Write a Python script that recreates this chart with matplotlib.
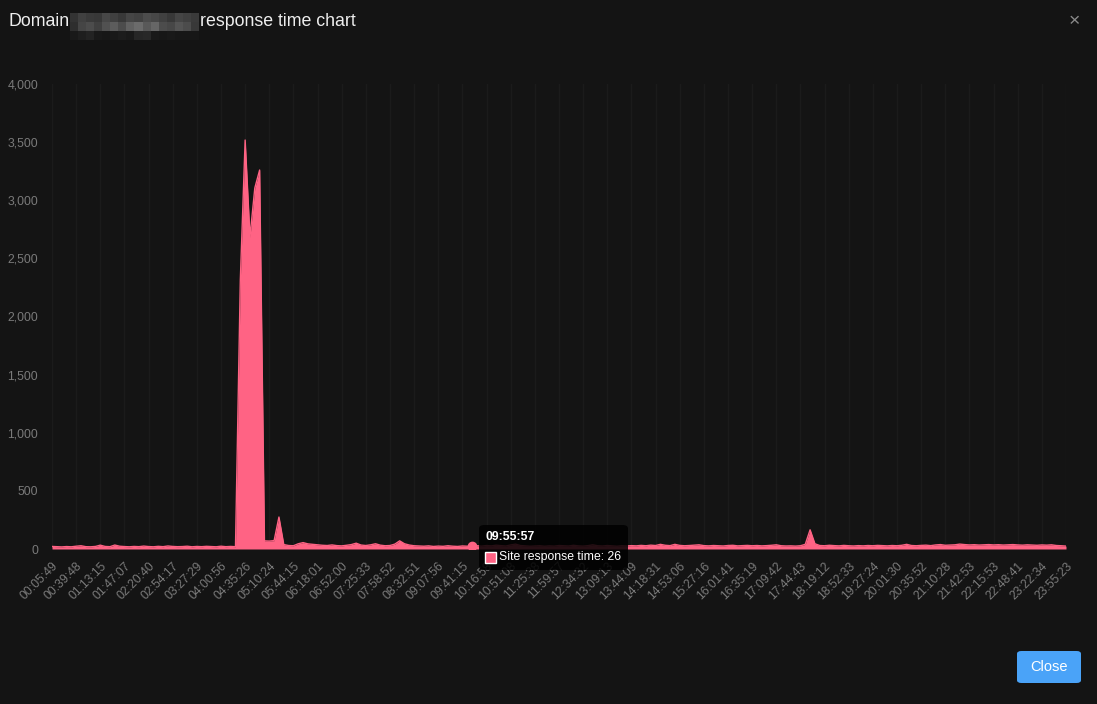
import numpy as np
import matplotlib.pyplot as plt
from matplotlib.patches import FancyBboxPatch, Rectangle

plt.rcParams['font.family'] = ['Liberation Sans', 'DejaVu Sans']

# x-axis labels (one every 5 samples)
tick_labels = ['00:05:49', '00:39:48', '01:13:15', '01:47:07', '02:20:40', '02:54:17',
               '03:27:29', '04:00:56', '04:35:26', '05:10:24', '05:44:15', '06:18:01',
               '06:52:00', '07:25:33', '07:58:52', '08:32:51', '09:07:56', '09:41:15',
               '10:16:58', '10:51:08', '11:25:38', '11:59:57', '12:34:32', '13:09:13',
               '13:44:09', '14:18:31', '14:53:06', '15:27:16', '16:01:41', '16:35:19',
               '17:09:42', '17:44:43', '18:19:12', '18:52:33', '19:27:24', '20:01:30',
               '20:35:52', '21:10:28', '21:42:53', '22:15:53', '22:48:41', '23:22:34',
               '23:55:23']
label_step = 5

# site response time (ms)
response_time = [
    22, 20, 18, 21, 19, 24, 28, 20, 19, 22,
    33, 22, 20, 34, 24, 21, 19, 22, 20, 25,
    21, 19, 23, 20, 26, 22, 20, 21, 24, 19,
    22, 20, 23, 21, 19, 24, 20, 22,
    20, 2314, 3518, 2684, 3105, 3260, 70, 68, 72, 275, 38, 30,
    28, 45, 55, 44, 40, 36, 32, 30, 35, 29,
    27, 32, 38, 50, 34, 30, 36, 45, 33, 28,
    30, 42, 70, 45, 34, 28, 26, 24, 27, 22,
    25, 23, 28, 24, 22, 26, 24, 26, 28, 25,
    30, 27, 33, 29, 26, 35, 42, 30, 27, 24,
    26, 28, 24, 27, 25, 30, 28, 26, 32, 27,
    25, 29, 36, 28, 26, 30, 27, 24, 28, 26,
    29, 27, 31, 28, 33, 30, 40, 32, 29, 40,
    31, 28, 30, 33, 36, 29, 27, 30, 28, 26,
    30, 32, 27, 29, 31, 28, 30, 27, 29, 32,
    36, 28, 26, 27, 25, 28, 40, 165, 45, 30,
    28, 32, 29, 27, 31, 28, 26, 29, 27, 30,
    28, 31, 29, 27, 30, 28, 32, 40, 30, 28,
    31, 33, 29, 35, 38, 32, 34, 36, 42, 38,
    35, 37, 34, 36, 38, 35, 37, 34, 36, 38,
    35, 33, 36, 34, 32, 35, 33, 36, 30, 28,
    25,
]

# hovered point shown in the tooltip
hover_index = 87
hover_time = '09:55:57'

bg = '#141414'
pink = '#ff6384'
grey = '#7a7a7a'

fig = plt.figure(figsize=(10.97, 7.04), dpi=100, facecolor=bg)
ax = fig.add_axes([52 / 1097, 155 / 704, 1014 / 1097, 465 / 704], facecolor=bg)

x = np.arange(len(response_time))
y = np.array(response_time)
ax.fill_between(x, 0, y, color=pink, linewidth=0, zorder=2)
ax.plot(x, y, color=pink, linewidth=1, zorder=3)
ax.plot(x[hover_index], y[hover_index], 'o', color=pink, markersize=6, zorder=4)

ax.set_xlim(0, len(response_time) - 1)
ax.set_ylim(0, 4000)
ax.set_yticks(np.arange(0, 4001, 500))
ax.set_yticklabels([f'{v:,}' for v in range(0, 4001, 500)])
ax.set_xticks(np.arange(0, len(response_time), label_step))
ax.set_xticklabels(tick_labels, rotation=45, ha='right', va='top', rotation_mode='anchor')
ax.tick_params(axis='both', length=0, colors=grey, labelsize=8.8)
ax.tick_params(axis='y', pad=10)
ax.tick_params(axis='x', pad=8)
ax.grid(axis='x', color='#1b1b1b', linewidth=1)
for s in ax.spines.values():
    s.set_visible(False)

# title with blurred domain name
fig.text(8 / 1097, 1 - 22 / 704, 'Domain', color='#eeeeee', fontsize=12.8, va='center')
fig.text(200 / 1097, 1 - 22 / 704, 'response time chart', color='#eeeeee', fontsize=12.8, va='center')
mosaic = np.array([
    [0.20, 0.25, 0.23, 0.22, 0.28, 0.25, 0.22, 0.27, 0.26, 0.30, 0.28, 0.25, 0.22, 0.27, 0.25, 0.23],
    [0.18, 0.27, 0.30, 0.25, 0.32, 0.36, 0.30, 0.38, 0.42, 0.35, 0.40, 0.30, 0.28, 0.33, 0.30, 0.22],
    [0.10, 0.12, 0.14, 0.10, 0.09, 0.10, 0.11, 0.10, 0.15, 0.16, 0.10, 0.09, 0.10, 0.09, 0.09, 0.09],
])
ax_m = fig.add_axes([70 / 1097, 1 - 40 / 704, 129 / 1097, 27 / 704])
ax_m.imshow(mosaic, cmap='gray', vmin=0, vmax=1, aspect='auto', interpolation='nearest')
ax_m.axis('off')

# close cross
fig.text(1074 / 1097, 1 - 22 / 704, '\u00d7', color='#8a8a8a', fontsize=14, ha='center', va='center')

# tooltip
tip = FancyBboxPatch((479 / 1097, 1 - 570 / 704), 149 / 1097, 45 / 704,
                     boxstyle='round,pad=0,rounding_size=0.005', transform=fig.transFigure,
                     facecolor='black', alpha=0.85, edgecolor='none', zorder=10)
fig.patches.append(tip)
fig.text(485 / 1097, 1 - 537 / 704, hover_time, color='white', fontsize=8.8,
         fontweight='bold', va='center', zorder=11)
fig.patches.append(Rectangle((485 / 1097, 1 - 563 / 704), 11 / 1097, 11 / 704,
                             transform=fig.transFigure, facecolor=pink, edgecolor='white',
                             linewidth=1, zorder=11))
fig.text(499 / 1097, 1 - 557 / 704, f'Site response time: {response_time[hover_index]}',
         color='white', fontsize=8.8, va='center', zorder=11)

# close button
btn = FancyBboxPatch((1017 / 1097, 1 - 683 / 704), 64 / 1097, 32 / 704,
                     boxstyle='round,pad=0,rounding_size=0.004', transform=fig.transFigure,
                     facecolor='#4aa3f8', edgecolor='none')
fig.patches.append(btn)
fig.text(1049 / 1097, 1 - 667 / 704, 'Close', color='white', fontsize=10.5,
         ha='center', va='center')

fig.savefig('out.png', dpi=100, facecolor=bg)
